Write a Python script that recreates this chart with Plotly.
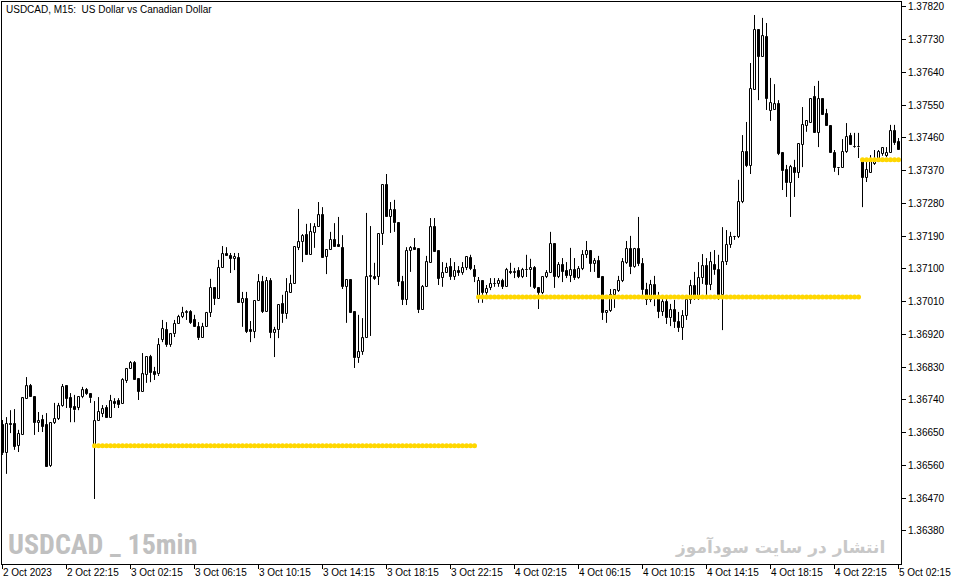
import plotly.graph_objects as go

# ---------------- data (USDCAD M15) ----------------
opens = [
    1.36671, 1.36594, 1.36674, 1.36674, 1.36614, 1.36644, 1.36743, 1.36778, 1.36748, 1.36677,
    1.36685, 1.36671, 1.36559, 1.36677, 1.36688, 1.36723, 1.36778, 1.36745, 1.36721, 1.36718,
    1.36748, 1.36767, 1.36757, 1.36614, 1.36682, 1.36702, 1.36718, 1.36690, 1.36734, 1.36737,
    1.36729, 1.36792, 1.36825, 1.36842, 1.36798, 1.36762, 1.36809, 1.36858, 1.36817, 1.36811,
    1.36905, 1.36932, 1.36891, 1.36921, 1.36949, 1.36968, 1.36979, 1.36982, 1.36960, 1.36941,
    1.36910, 1.36941, 1.36979, 1.37048, 1.37018, 1.37103, 1.37141, 1.37136, 1.37128, 1.37130,
    1.37007, 1.37018, 1.36932, 1.36927, 1.37012, 1.37064, 1.36982, 1.37067, 1.36924, 1.36932,
    1.37004, 1.36976, 1.37034, 1.37059, 1.37158, 1.37174, 1.37193, 1.37139, 1.37199, 1.37215,
    1.37248, 1.37133, 1.37152, 1.37180, 1.37166, 1.37158, 1.37051, 1.37070, 1.36982, 1.36855,
    1.36872, 1.36910, 1.37078, 1.37078, 1.37078, 1.37196, 1.37331, 1.37243, 1.37262, 1.37226,
    1.37064, 1.37015, 1.37150, 1.37158, 1.37155, 1.36987, 1.37051, 1.37117, 1.37215, 1.37150,
    1.37075, 1.37089, 1.37105, 1.37078, 1.37095, 1.37089, 1.37103, 1.37130, 1.37097, 1.37026,
    1.37067, 1.37034, 1.37048, 1.37059, 1.37059, 1.37067, 1.37051, 1.37092, 1.37089, 1.37095,
    1.37078, 1.37097, 1.37097, 1.37103, 1.37048, 1.37034, 1.37078, 1.37089, 1.37169, 1.37078,
    1.37111, 1.37095, 1.37081, 1.37097, 1.37075, 1.37100, 1.37139, 1.37150, 1.37114, 1.37122,
    1.37078, 1.36979, 1.36985, 1.37029, 1.37040, 1.37067, 1.37117, 1.37155, 1.37105, 1.37155,
    1.37114, 1.37042, 1.37015, 1.37056, 1.37020, 1.36982, 1.37009, 1.36965, 1.36987, 1.36954,
    1.36938, 1.36971, 1.37015, 1.37053, 1.37026, 1.37075, 1.37108, 1.37056, 1.37111, 1.37097,
    1.37029, 1.37119, 1.37166, 1.37188, 1.37188, 1.37284, 1.37422, 1.37383, 1.37592, 1.37757,
    1.37683, 1.37738, 1.37534, 1.37537, 1.37553, 1.37419, 1.37372, 1.37336, 1.37378, 1.37364,
    1.37441, 1.37493, 1.37501, 1.37573, 1.37474, 1.37567, 1.37526, 1.37493, 1.37419, 1.37378,
    1.37378, 1.37422, 1.37466, 1.37435, 1.37435, 1.37397, 1.37350, 1.37364, 1.37389, 1.37394,
    1.37416, 1.37411, 1.37419, 1.37479, 1.37449,
]
highs = [
    1.36685, 1.36693, 1.36712, 1.36715, 1.36658, 1.36748, 1.36803, 1.36784, 1.36748, 1.36707,
    1.36699, 1.36704, 1.36679, 1.36732, 1.36732, 1.36784, 1.36778, 1.36759, 1.36754, 1.36748,
    1.36776, 1.36773, 1.36757, 1.36737, 1.36748, 1.36726, 1.36726, 1.36754, 1.36745, 1.36745,
    1.36800, 1.36828, 1.36847, 1.36847, 1.36798, 1.36869, 1.36858, 1.36864, 1.36831, 1.36910,
    1.36960, 1.36954, 1.36924, 1.36960, 1.36974, 1.36996, 1.36987, 1.36987, 1.36974, 1.36954,
    1.36952, 1.36982, 1.37073, 1.37048, 1.37125, 1.37163, 1.37160, 1.37144, 1.37144, 1.37144,
    1.37037, 1.37037, 1.36957, 1.37012, 1.37086, 1.37081, 1.37078, 1.37075, 1.36941, 1.37001,
    1.37029, 1.37075, 1.37084, 1.37160, 1.37265, 1.37196, 1.37224, 1.37226, 1.37226, 1.37284,
    1.37270, 1.37152, 1.37202, 1.37226, 1.37243, 1.37193, 1.37070, 1.37070, 1.36982, 1.36974,
    1.36965, 1.37254, 1.37218, 1.37117, 1.37196, 1.37331, 1.37361, 1.37284, 1.37290, 1.37229,
    1.37081, 1.37160, 1.37163, 1.37185, 1.37155, 1.37056, 1.37136, 1.37240, 1.37240, 1.37150,
    1.37119, 1.37117, 1.37130, 1.37119, 1.37108, 1.37119, 1.37133, 1.37139, 1.37111, 1.37078,
    1.37067, 1.37056, 1.37075, 1.37075, 1.37075, 1.37073, 1.37103, 1.37117, 1.37103, 1.37105,
    1.37103, 1.37139, 1.37128, 1.37108, 1.37048, 1.37078, 1.37097, 1.37202, 1.37169, 1.37119,
    1.37130, 1.37119, 1.37158, 1.37130, 1.37108, 1.37152, 1.37177, 1.37152, 1.37130, 1.37136,
    1.37078, 1.36987, 1.37045, 1.37045, 1.37081, 1.37130, 1.37177, 1.37191, 1.37158, 1.37243,
    1.37130, 1.37062, 1.37070, 1.37081, 1.37037, 1.37026, 1.37020, 1.37004, 1.37015, 1.36982,
    1.36987, 1.37026, 1.37070, 1.37092, 1.37119, 1.37141, 1.37130, 1.37147, 1.37152, 1.37139,
    1.37215, 1.37207, 1.37202, 1.37191, 1.37345, 1.37468, 1.37504, 1.37666, 1.37798, 1.37757,
    1.37790, 1.37776, 1.37625, 1.37608, 1.37564, 1.37419, 1.37386, 1.37386, 1.37400, 1.37444,
    1.37545, 1.37507, 1.37567, 1.37603, 1.37617, 1.37567, 1.37540, 1.37493, 1.37427, 1.37378,
    1.37457, 1.37501, 1.37474, 1.37474, 1.37474, 1.37397, 1.37400, 1.37413, 1.37427, 1.37427,
    1.37433, 1.37435, 1.37496, 1.37496, 1.37460,
]
lows = [
    1.36589, 1.36537, 1.36649, 1.36603, 1.36597, 1.36644, 1.36743, 1.36748, 1.36644, 1.36652,
    1.36652, 1.36556, 1.36556, 1.36674, 1.36685, 1.36721, 1.36718, 1.36679, 1.36679, 1.36712,
    1.36745, 1.36754, 1.36732, 1.36468, 1.36682, 1.36693, 1.36690, 1.36690, 1.36718, 1.36718,
    1.36729, 1.36787, 1.36825, 1.36795, 1.36740, 1.36762, 1.36787, 1.36789, 1.36795, 1.36806,
    1.36899, 1.36886, 1.36886, 1.36913, 1.36949, 1.36965, 1.36960, 1.36949, 1.36941, 1.36905,
    1.36910, 1.36941, 1.36968, 1.37001, 1.37018, 1.37103, 1.37136, 1.37089, 1.37097, 1.37007,
    1.36941, 1.36924, 1.36899, 1.36910, 1.37012, 1.36979, 1.36982, 1.36910, 1.36858, 1.36910,
    1.36952, 1.36963, 1.37034, 1.37059, 1.37152, 1.37119, 1.37139, 1.37139, 1.37158, 1.37215,
    1.37130, 1.37086, 1.37152, 1.37160, 1.37160, 1.37045, 1.36952, 1.36979, 1.36828, 1.36842,
    1.36864, 1.36910, 1.36916, 1.37070, 1.37056, 1.37166, 1.37243, 1.37199, 1.37202, 1.37053,
    1.37001, 1.37001, 1.37092, 1.37152, 1.36979, 1.36987, 1.37051, 1.37117, 1.37147, 1.37056,
    1.37051, 1.37089, 1.37070, 1.37070, 1.37081, 1.37084, 1.37097, 1.37097, 1.37064, 1.37007,
    1.37007, 1.37029, 1.37042, 1.37051, 1.37051, 1.37045, 1.37051, 1.37086, 1.37075, 1.37075,
    1.37075, 1.37078, 1.37051, 1.37045, 1.36990, 1.37031, 1.37075, 1.37089, 1.37048, 1.37075,
    1.37064, 1.37075, 1.37064, 1.37070, 1.37073, 1.37097, 1.37130, 1.37092, 1.37092, 1.37075,
    1.36960, 1.36952, 1.36982, 1.36993, 1.37037, 1.37064, 1.37114, 1.37086, 1.37103, 1.37108,
    1.37026, 1.37001, 1.37009, 1.36998, 1.36965, 1.36971, 1.36949, 1.36943, 1.36938, 1.36927,
    1.36905, 1.36960, 1.37004, 1.37015, 1.37015, 1.37059, 1.37020, 1.37042, 1.37084, 1.37015,
    1.36932, 1.37111, 1.37158, 1.37180, 1.37185, 1.37281, 1.37380, 1.37361, 1.37592, 1.37564,
    1.37683, 1.37537, 1.37507, 1.37537, 1.37413, 1.37317, 1.37298, 1.37243, 1.37298, 1.37350,
    1.37380, 1.37477, 1.37501, 1.37474, 1.37435, 1.37523, 1.37493, 1.37419, 1.37367, 1.37358,
    1.37378, 1.37419, 1.37441, 1.37433, 1.37405, 1.37270, 1.37339, 1.37364, 1.37386, 1.37394,
    1.37411, 1.37408, 1.37419, 1.37441, 1.37427,
]
closes = [
    1.36594, 1.36674, 1.36671, 1.36611, 1.36647, 1.36745, 1.36778, 1.36748, 1.36677, 1.36682,
    1.36666, 1.36556, 1.36677, 1.36688, 1.36723, 1.36776, 1.36743, 1.36718, 1.36712, 1.36748,
    1.36767, 1.36757, 1.36745, 1.36682, 1.36707, 1.36715, 1.36690, 1.36737, 1.36729, 1.36726,
    1.36795, 1.36825, 1.36842, 1.36795, 1.36762, 1.36811, 1.36858, 1.36814, 1.36809, 1.36891,
    1.36935, 1.36891, 1.36921, 1.36949, 1.36968, 1.36979, 1.36982, 1.36952, 1.36941, 1.36910,
    1.36941, 1.36979, 1.37048, 1.37018, 1.37103, 1.37141, 1.37136, 1.37128, 1.37133, 1.37007,
    1.37018, 1.36927, 1.36927, 1.37012, 1.37064, 1.36982, 1.37067, 1.36924, 1.36932, 1.37001,
    1.36976, 1.37037, 1.37059, 1.37160, 1.37174, 1.37191, 1.37139, 1.37202, 1.37215, 1.37248,
    1.37130, 1.37152, 1.37180, 1.37160, 1.37160, 1.37051, 1.37070, 1.36979, 1.36855, 1.36872,
    1.36910, 1.37078, 1.37081, 1.37073, 1.37196, 1.37331, 1.37243, 1.37262, 1.37226, 1.37064,
    1.37015, 1.37150, 1.37158, 1.37152, 1.36987, 1.37051, 1.37119, 1.37215, 1.37147, 1.37073,
    1.37089, 1.37103, 1.37078, 1.37095, 1.37089, 1.37103, 1.37133, 1.37100, 1.37078, 1.37067,
    1.37034, 1.37045, 1.37059, 1.37060, 1.37067, 1.37051, 1.37097, 1.37089, 1.37092, 1.37078,
    1.37097, 1.37098, 1.37103, 1.37048, 1.37034, 1.37078, 1.37089, 1.37169, 1.37078, 1.37111,
    1.37092, 1.37081, 1.37097, 1.37075, 1.37100, 1.37139, 1.37150, 1.37114, 1.37122, 1.37075,
    1.36979, 1.36985, 1.37029, 1.37042, 1.37067, 1.37119, 1.37155, 1.37105, 1.37155, 1.37114,
    1.37042, 1.37015, 1.37056, 1.37020, 1.36982, 1.37009, 1.36965, 1.36987, 1.36954, 1.36938,
    1.36971, 1.37015, 1.37053, 1.37026, 1.37075, 1.37108, 1.37056, 1.37119, 1.37097, 1.37029,
    1.37119, 1.37166, 1.37188, 1.37189, 1.37284, 1.37422, 1.37383, 1.37595, 1.37757, 1.37683,
    1.37740, 1.37567, 1.37556, 1.37553, 1.37416, 1.37369, 1.37336, 1.37380, 1.37364, 1.37444,
    1.37496, 1.37507, 1.37567, 1.37474, 1.37567, 1.37523, 1.37493, 1.37419, 1.37378, 1.37377,
    1.37422, 1.37463, 1.37441, 1.37436, 1.37434, 1.37350, 1.37372, 1.37394, 1.37394, 1.37422,
    1.37433, 1.37419, 1.37479, 1.37446, 1.37427,
]

# daily open levels (yellow dotted lines) and the bars each day spans
day_open_levels = [1.36614, 1.37023, 1.37400]
day_first_bar = [23, 119, 215]
day_last_bar = [118, 214, 224]

# time axis (one tick every 16 bars = 4 hours)
time_tick_bars = [0, 16, 32, 48, 64, 80, 96, 112, 128, 144, 160, 176, 192, 208, 224]
time_tick_labels = ["2 Oct 2023", "2 Oct 22:15", "3 Oct 02:15", "3 Oct 06:15", "3 Oct 10:15",
                    "3 Oct 14:15", "3 Oct 18:15", "3 Oct 22:15", "4 Oct 02:15", "4 Oct 06:15",
                    "4 Oct 10:15", "4 Oct 14:15", "4 Oct 18:15", "4 Oct 22:15", "5 Oct 02:15"]

price_ticks = [1.36380, 1.36470, 1.36560, 1.36650, 1.36740, 1.36830, 1.36920, 1.37010, 1.37100,
               1.37190, 1.37280, 1.37370, 1.37460, 1.37550, 1.37640, 1.37730, 1.37820]
price_tick_labels = ["1.36380", "1.36470", "1.36560", "1.36650", "1.36740", "1.36830", "1.36920",
                     "1.37010", "1.37100", "1.37190", "1.37280", "1.37370", "1.37460", "1.37550",
                     "1.37640", "1.37730", "1.37820"]

title_text = "USDCAD, M15:\u00a0 US Dollar vs Canadian Dollar"
watermark_left = "USDCAD _ 15min"
watermark_right = "انتشار در سایت سودآموز"

# ---------------- figure ----------------
n = len(opens)
xs = list(range(n))
FONT = "Liberation Sans, Arial, DejaVu Sans, sans-serif"

fig = go.Figure()

# wicks (upper and lower part separately, so they don't cross the bodies)
wx, wy = [], []
for i in xs:
    top = max(opens[i], closes[i])
    bot = min(opens[i], closes[i])
    if highs[i] > top:
        wx += [i, i, None]
        wy += [highs[i], top, None]
    if lows[i] < bot:
        wx += [i, i, None]
        wy += [bot, lows[i], None]
fig.add_trace(go.Scatter(x=wx, y=wy, mode="lines", line=dict(color="black", width=1),
                         hoverinfo="skip", showlegend=False))

# bodies
min_h = 0.0000035
for bull in (True, False):
    bx, bb, bh = [], [], []
    for i in xs:
        if (closes[i] >= opens[i]) == bull:
            bx.append(i)
            bb.append(min(opens[i], closes[i]))
            bh.append(max(abs(closes[i] - opens[i]), min_h))
    fig.add_trace(go.Bar(
        x=bx, y=bh, base=bb, width=0.5,
        marker=dict(color="white" if bull else "black", line=dict(color="black", width=1)),
        hoverinfo="skip", showlegend=False))

# daily-open lines
for lvl, a, b in zip(day_open_levels, day_first_bar, day_last_bar):
    seg = list(range(a, b + 1))
    fig.add_trace(go.Scatter(
        x=seg, y=[lvl] * len(seg), mode="markers",
        marker=dict(color="#FFD700", size=5, symbol="circle", line=dict(width=0)),
        hoverinfo="skip", showlegend=False))

annotations = []
for tb, tl in zip(time_tick_bars, time_tick_labels):
    annotations.append(dict(x=tb, y=0, xref="x", yref="paper", text=tl, showarrow=False,
                            xanchor="left", yanchor="top", xshift=-2, yshift=-1,
                            font=dict(family=FONT, size=10, color="black")))
annotations.append(dict(x=0, y=1, xref="paper", yref="paper", text=title_text, showarrow=False,
                        xanchor="left", yanchor="top", xshift=2, yshift=0,
                        font=dict(family=FONT, size=10, color="black")))
annotations.append(dict(x=0, y=0, xref="paper", yref="paper", text="<b>" + watermark_left + "</b>",
                        showarrow=False, xanchor="left", yanchor="bottom", xshift=4, yshift=1,
                        font=dict(family="Liberation Sans Narrow, Roboto Condensed, Liberation Sans, sans-serif",
                                  size=28, color="#C0C0C0")))
annotations.append(dict(x=1, y=0, xref="paper", yref="paper", text="<b>" + watermark_right + "</b>",
                        showarrow=False, xanchor="right", yanchor="bottom", xshift=-14, yshift=4,
                        font=dict(family="DejaVu Sans, sans-serif", size=17, color="#C8C8C8")))

fig.update_layout(
    width=955, height=584,
    margin=dict(l=2, r=54, t=2, b=20),
    paper_bgcolor="white", plot_bgcolor="white",
    bargap=0, barmode="overlay",
    showlegend=False,
    annotations=annotations,
    xaxis=dict(range=[-0.125, 224.625], showgrid=False, zeroline=False,
               showline=True, mirror=True, linecolor="black", linewidth=1,
               tickmode="array", tickvals=time_tick_bars, ticks="outside", ticklen=4,
               tickcolor="black", showticklabels=False, fixedrange=True),
    yaxis=dict(range=[1.362893, 1.378337], side="right", showgrid=False, zeroline=False,
               showline=True, mirror=True, linecolor="black", linewidth=1,
               tickmode="array", tickvals=price_ticks, ticktext=price_tick_labels,
               ticks="outside", ticklen=4, tickcolor="black",
               tickfont=dict(family=FONT, size=10, color="black"), fixedrange=True),
)

fig.write_html("out.html", config={"displayModeBar": False},
               post_script="document.body.style.margin='0';document.body.style.overflow='hidden';")
